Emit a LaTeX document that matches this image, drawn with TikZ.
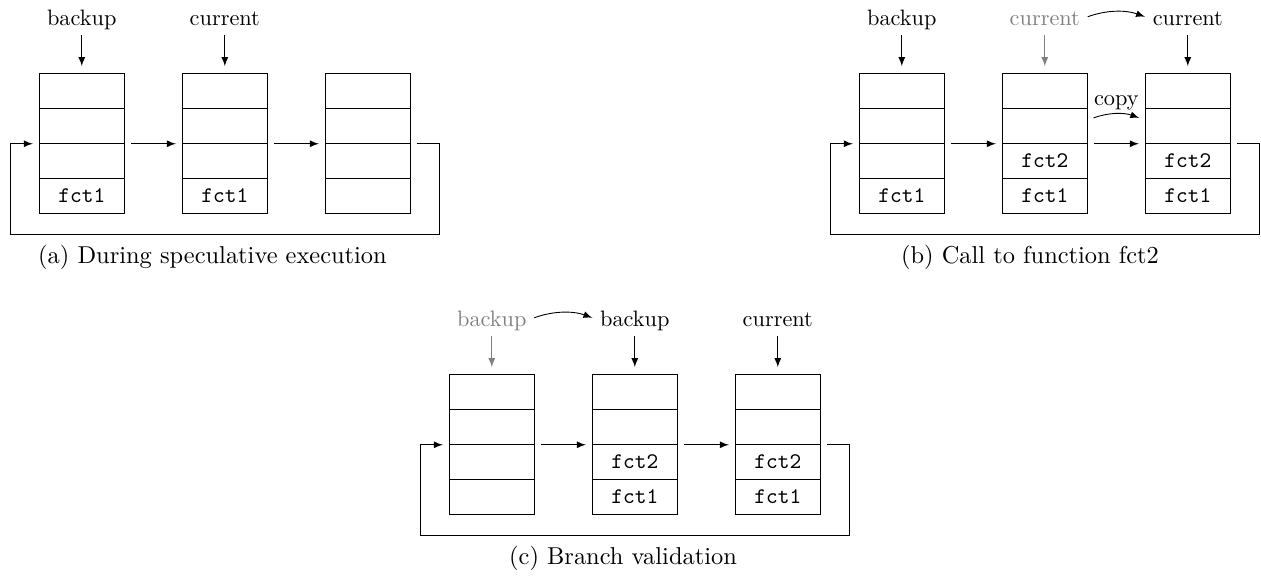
\documentclass[tikz,border=0pt]{standalone}
\tikzset{
  cell/.style={draw, minimum width=38.1pt, minimum height=15.7pt, inner sep=0pt, font=\ttfamily},
  lbl/.style={inner sep=0pt, text height=7pt, text depth=2pt, anchor=base},
  old/.style={text=gray},
  link/.style={->, shorten <=2.8pt, shorten >=2.7pt},
  down/.style={->, shorten <=2.5pt, shorten >=3pt},
  subcap/.style={anchor=base, font=\fontsize{10.95}{13.6}\selectfont}
}
\begin{document}
\begin{tikzpicture}[x=0.4484pt, y=-0.4484pt, >=latex]
    \useasboundingbox (0,0) rectangle (1261,577);

    % 1. The stacks, four cells each
    \foreach \n/\x/\y/\c/\d in {a1/81.8/0/{}/fct1, a2/224.8/0/{}/fct1, a3/367.8/0/{}/{},
        b1/901.8/0/{}/fct1, b2/1044.8/0/fct2/fct1, b3/1187.8/0/fct2/fct1,
        c1/491.8/301/{}/{}, c2/634.8/301/fct2/fct1, c3/777.8/301/fct2/fct1} {
      \node[cell] (\n-1) at (\x, {90.8+\y}) {};
      \node[cell] (\n-2) at (\x, {125.8+\y}) {};
      \node[cell] (\n-3) at (\x, {160.8+\y}) {\c};
      \node[cell] (\n-4) at (\x, {195.8+\y}) {\d};
    }

    % 2. Links between the stacks and the way back
    \foreach \s in {a,b,c} {
      \draw[link] (\s1-2.south east) -- (\s2-2.south west);
      \draw[link] (\s2-2.south east) -- (\s3-2.south west);
      \draw[link] (\s3-2.south east) -| ([xshift=12.8pt, yshift=-9.4pt]\s3-4.south east)
        -| ([xshift=-12.8pt]\s1-2.south west) -- (\s1-2.south west);
    }

    % 3. Pointers
    \node[lbl] (a-bak) at (81.8,25) {backup};
    \node[lbl] (a-cur) at (224.8,25) {current};
    \node[lbl] (b-bak) at (901.8,25) {backup};
    \node[lbl, old] (b-old) at (1044.8,25) {current};
    \node[lbl] (b-cur) at (1187.8,25) {current};
    \node[lbl, old] (c-old) at (491.8,326) {backup};
    \node[lbl] (c-bak) at (634.8,326) {backup};
    \node[lbl] (c-cur) at (777.8,326) {current};

    \draw[down] (a-bak) -- (a1-1);
    \draw[down] (a-cur) -- (a2-1);
    \draw[down] (b-bak) -- (b1-1);
    \draw[down, gray] (b-old) -- (b2-1);
    \draw[down] (b-cur) -- (b3-1);
    \draw[down, gray] (c-old) -- (c1-1);
    \draw[down] (c-bak) -- (c2-1);
    \draw[down] (c-cur) -- (c3-1);

    % 4. Moved pointers and the copy
    \draw[link, bend left=20, shorten <=3.5pt, shorten >=3.5pt] (b-old.east) to (b-cur.west);
    \draw[link, bend left=20, shorten <=3.5pt, shorten >=3.5pt] (c-old.east) to (c-bak.west);
    \draw[link, bend left=20] ([yshift=2.6pt]b2-2.east) to node[above, inner sep=1.5pt] (copy) {copy} ([yshift=2.6pt]b3-2.west);

    % 5. Captions
    \node[subcap] (cap-a) at (212.5,263) {(a) During speculative execution};
    \node[subcap] (cap-b) at (1030,263) {(b) Call to function fct2};
    \node[subcap] (cap-c) at (623,564) {(c) Branch validation};
\end{tikzpicture}
\end{document}
